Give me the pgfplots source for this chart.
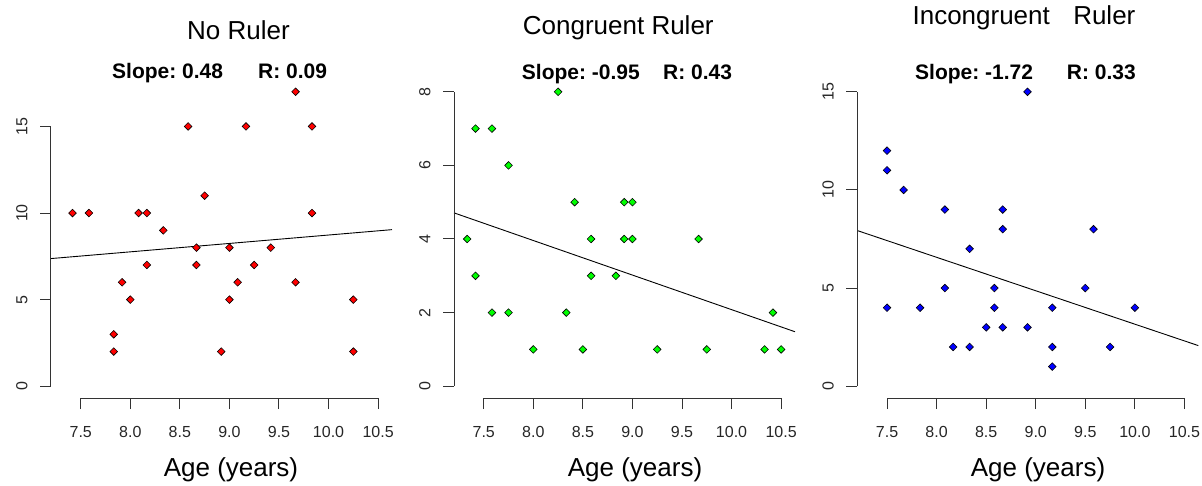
\documentclass[border=0pt]{standalone}
\usepackage{pgfplots}
\pgfplotsset{compat=1.18}
\usepackage{fontspec}
\setmainfont{Liberation Sans}
\frenchspacing

\definecolor{axgray}{gray}{0.2}
\tikzset{raxis/.style={axgray, line width=1pt}}
\pgfplotsset{
  rstyle/.style={
    scale only axis, width=341pt, height=318pt,
    xmin=7.2, xmax=10.64,
    axis lines*=left, axis line style={draw=none},
    tick align=outside, tick pos=left, major tick length=11pt,
    tick style={axgray, line width=1pt},
    xtick={7.5,8,8.5,9,9.5,10,10.5},
    xticklabels={7.5,8.0,8.5,9.0,9.5,10.0,10.5},
    tick label style={font=\fontsize{16}{19}\selectfont, text=black!85},
    yticklabel style={xshift=-9pt, rotate=90, anchor=south},
    xticklabel style={yshift=-14pt, anchor=north},
    clip=false,
  },
  rmarks/.style={only marks, mark=square*, mark size=2.7pt,
    mark options={rotate=45, draw=black, line width=0.6pt, fill=#1}},
  rline/.style={black, line width=0.9pt, no marks},
}

\begin{document}
\begin{tikzpicture}[x=1pt,y=1pt]
\useasboundingbox (0,0) rectangle (1202,485);

% ---------- Panel 1: No Ruler ----------
\begin{axis}[rstyle, at={(51pt,87pt)}, anchor=south west,
  ymin=-0.68, ymax=17.68, ytick={0,5,10,15}, yticklabels={0,5,10,15}]
\addplot[rmarks=red] coordinates {
(7.417,10) (7.583,10) (7.833,3) (7.833,2) (7.917,6) (8.0,5)
(8.083,10) (8.167,10) (8.167,7) (8.333,9) (8.583,15) (8.667,8)
(8.667,7) (8.75,11) (8.917,2) (9.0,8) (9.0,5) (9.083,6)
(9.167,15) (9.25,7) (9.417,8) (9.667,17) (9.667,6) (9.833,15)
(9.833,10) (10.25,5) (10.25,2)
};
\addplot[rline] coordinates {(7.2,7.37) (10.64,9.04)};
\draw[raxis] (axis cs:7.5,-0.68) -- (axis cs:10.5,-0.68);
\draw[raxis] (axis cs:7.2,0) -- (axis cs:7.2,15);
\end{axis}

% ---------- Panel 2: Congruent Ruler ----------
\begin{axis}[rstyle, at={(454pt,87pt)}, anchor=south west,
  ymin=-0.32, ymax=8.32, ytick={0,2,4,6,8}, yticklabels={0,2,4,6,8}]
\addplot[rmarks=green] coordinates {
(7.333,4) (7.417,7) (7.417,3) (7.583,7) (7.583,2) (7.75,6)
(7.75,2) (8.0,1) (8.25,8) (8.333,2) (8.417,5) (8.5,1)
(8.583,4) (8.583,3) (8.833,3) (8.917,5) (8.917,4) (9.0,5)
(9.0,4) (9.25,1) (9.667,4) (9.75,1) (10.333,1) (10.417,2)
(10.5,1)
};
\addplot[rline] coordinates {(7.2,4.71) (10.64,1.48)};
\draw[raxis] (axis cs:7.5,-0.32) -- (axis cs:10.5,-0.32);
\draw[raxis] (axis cs:7.2,0) -- (axis cs:7.2,8);
\end{axis}

% ---------- Panel 3: Incongruent Ruler ----------
\begin{axis}[rstyle, at={(857.3pt,87pt)}, anchor=south west,
  ymin=-0.6, ymax=15.6, ytick={0,5,10,15}, yticklabels={0,5,10,15}]
\addplot[rmarks=blue] coordinates {
(7.5,12) (7.5,11) (7.5,4) (7.667,10) (7.833,4) (8.083,9)
(8.083,5) (8.167,2) (8.333,7) (8.333,2) (8.5,3) (8.583,5)
(8.583,4) (8.667,9) (8.667,8) (8.667,3) (8.917,15) (8.917,3)
(9.167,4) (9.167,2) (9.167,1) (9.5,5) (9.583,8) (9.75,2)
(10.0,4)
};
\addplot[rline] coordinates {(7.2,7.93) (10.64,2.07)};
\draw[raxis] (axis cs:7.5,-0.6) -- (axis cs:10.5,-0.6);
\draw[raxis] (axis cs:7.2,0) -- (axis cs:7.2,15);
\end{axis}

% ---------- Titles and annotations ----------
\def\titlefont{\fontsize{26}{30}\selectfont}
\def\statfont{\fontsize{21}{25}\selectfont\bfseries}
\node[anchor=base, font=\titlefont] at (238.5,445.7) {No Ruler};
\node[anchor=base, font=\titlefont] at (618.3,450) {Congruent Ruler};
\node[anchor=base, font=\titlefont] at (1024,460) {Incongruent\hspace{0.9em}Ruler};

\node[anchor=base west, font=\statfont, inner sep=0pt] at (112,406) {Slope: 0.48};
\node[anchor=base west, font=\statfont, inner sep=0pt] at (258,406) {R: 0.09};
\node[anchor=base west, font=\statfont, inner sep=0pt] at (521.7,405) {Slope: -0.95};
\node[anchor=base west, font=\statfont, inner sep=0pt] at (663,405) {R: 0.43};
\node[anchor=base west, font=\statfont, inner sep=0pt] at (915,405) {Slope: -1.72};
\node[anchor=base west, font=\statfont, inner sep=0pt] at (1066.7,405) {R: 0.33};

\node[anchor=base, font=\titlefont] at (231,8.3) {Age (years)};
\node[anchor=base, font=\titlefont] at (635,8.3) {Age (years)};
\node[anchor=base, font=\titlefont] at (1038,8.3) {Age (years)};
\end{tikzpicture}
\end{document}
